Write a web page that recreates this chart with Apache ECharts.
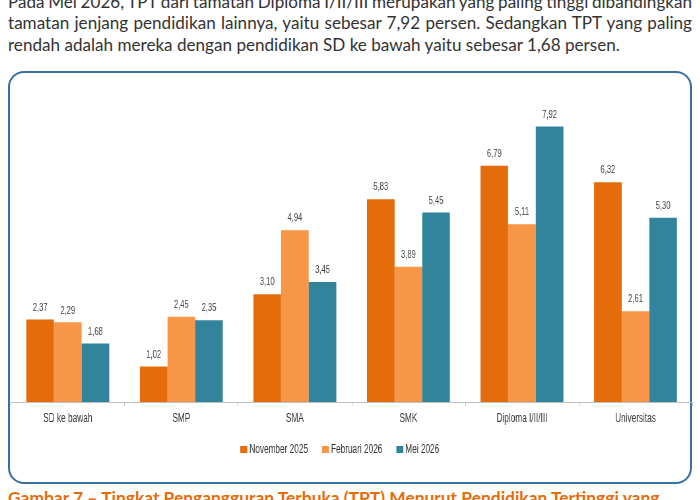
<!DOCTYPE html>
<html>
<head>
<meta charset="utf-8">
<script src="https://cdn.jsdelivr.net/npm/echarts@6/dist/echarts.min.js"></script>
<style>
    html, body { margin: 0; padding: 0; background: #fff; }
    #page { position: relative; width: 700px; height: 500px; overflow: hidden; }
    .line { position: absolute; left: 8px; height: 21px;
            font-family: Lato, "Open Sans", sans-serif; font-size: 17.1px; color: #333;
            white-space: nowrap; line-height: 21px; }
    #box { position: absolute; left: 8px; top: 71px; width: 680px; height: 409px;
           border: 2px solid #3a70a0; border-radius: 16px; }
    #caption { position: absolute; left: 8px; top: 488px; font-family: Lato, sans-serif;
               font-size: 17.4px; font-weight: bold; color: #e46c0a; white-space: nowrap; line-height: 20px; }
    #chart { position: absolute; left: 0; top: 0; height: 500px; transform-origin: 0 0; }
</style>
</head>
<body>
<div id="page">
    <div class="line just" style="top:-9px">Pada Mei 2026, TPT dari tamatan Diploma I/II/III merupakan yang paling tinggi dibandingkan</div>
    <div class="line just" style="top:12px">tamatan jenjang pendidikan lainnya, yaitu sebesar 7,92 persen. Sedangkan TPT yang paling</div>
    <div class="line" style="top:34px">rendah adalah mereka dengan pendidikan SD ke bawah yaitu sebesar 1,68 persen.</div>
    <div id="box"></div>
    <div id="caption">Gambar 7 – Tingkat Pengangguran Terbuka (TPT) Menurut Pendidikan Tertinggi yang</div>
    <div id="chart"></div>
</div>
<script>
// stretch or squeeze word spacing so justified lines span the column
var lineWidth = 684;
document.querySelectorAll('.just').forEach(function (d) {
    var gaps = d.textContent.split(' ').length - 1;
    var w = d.getBoundingClientRect().width;
    d.style.wordSpacing = ((lineWidth - w) / gaps) + 'px';
});

var categories = ['SD ke bawah', 'SMP', 'SMA', 'SMK', 'Diploma I/II/III', 'Universitas'];
var seriesNames = ['November 2025', 'Februari 2026', 'Mei 2026'];
var nov2025 = [2.37, 1.02, 3.10, 5.83, 6.79, 6.32];
var feb2026 = [2.29, 2.45, 4.94, 3.89, 5.11, 2.61];
var mei2026 = [1.68, 2.35, 3.45, 5.45, 7.92, 5.30];
var colors = ['#e46c0a', '#f79646', '#31849b'];

// the source chart uses a narrow font; squeeze the whole canvas horizontally to match
var S = 0.66;
var el = document.getElementById('chart');
el.style.width = Math.round(700 / S) + 'px';
el.style.transform = 'scaleX(' + S + ')';

var font = '"Liberation Sans", Arial, sans-serif';

function makeSeries(name, data, color) {
    return {
        name: name,
        type: 'bar',
        data: data,
        barGap: '0%',
        barCategoryGap: '27%',
        itemStyle: { color: color },
        label: {
            show: true,
            position: 'top',
            distance: 6,
            color: '#404040',
            fontSize: 11.5,
            fontFamily: font,
            formatter: function (p) { return p.value.toFixed(2).replace('.', ','); }
        }
    };
}

var chart = echarts.init(el);
var option = {
    animation: false,
    grid: { left: 11 / S, right: 8 / S, top: 89, bottom: 98 },
    legend: {
        left: 237 / S,
        top: 438,
        itemWidth: 7 / S,
        itemHeight: 7,
        itemGap: 14 / S,
        icon: 'rect',
        textStyle: { color: '#333', fontSize: 12.5, fontFamily: font, padding: [0, 0, 0, -2] },
        data: seriesNames
    },
    xAxis: {
        type: 'category',
        data: categories,
        axisLine: { lineStyle: { color: '#bfbfbf', width: 1 } },
        axisTick: { show: true, length: 4, lineStyle: { color: '#bfbfbf' } },
        axisLabel: { color: '#333', fontSize: 12.5, fontFamily: font, margin: 10 }
    },
    yAxis: {
        type: 'value',
        min: 0,
        max: 9,
        show: false,
        splitLine: { show: false }
    },
    series: [
        makeSeries(seriesNames[0], nov2025, colors[0]),
        makeSeries(seriesNames[1], feb2026, colors[1]),
        makeSeries(seriesNames[2], mei2026, colors[2])
    ]
};
chart.setOption(option);
</script>
</body>
</html>
